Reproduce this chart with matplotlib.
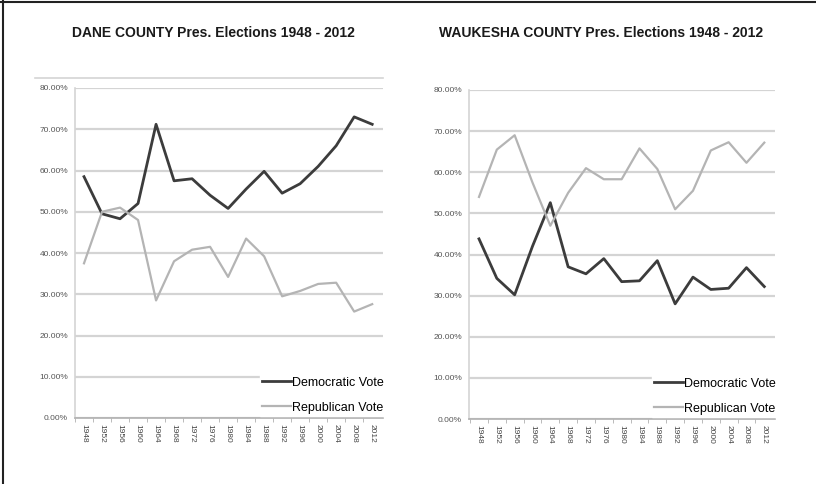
import matplotlib.pyplot as plt
from matplotlib.lines import Line2D
from matplotlib.ticker import FuncFormatter

years = [1948, 1952, 1956, 1960, 1964, 1968, 1972, 1976, 1980,
         1984, 1988, 1992, 1996, 2000, 2004, 2008, 2012]

dane_dem = [58.5, 49.5, 48.3, 52.0, 71.2, 57.5, 58.0, 54.0, 50.8,
            55.5, 59.8, 54.5, 56.8, 61.0, 66.0, 73.0, 71.2]
dane_rep = [37.5, 50.0, 51.0, 48.0, 28.5, 38.0, 40.8, 41.5, 34.2,
            43.5, 39.2, 29.5, 30.8, 32.5, 32.8, 25.8, 27.6]

wauk_dem = [43.8, 34.2, 30.2, 42.0, 52.6, 37.0, 35.3, 39.0, 33.4,
            33.6, 38.5, 28.0, 34.5, 31.5, 31.8, 36.8, 32.2]
wauk_rep = [54.0, 65.5, 69.0, 57.5, 47.0, 55.0, 61.0, 58.3, 58.3,
            65.8, 60.8, 51.0, 55.5, 65.3, 67.3, 62.3, 67.2]

titles = ["DANE COUNTY Pres. Elections 1948 - 2012",
          "WAUKESHA COUNTY Pres. Elections 1948 - 2012"]
series_names = ["Democratic Vote", "Republican Vote"]

DEM_COLOR = "#3c3c3c"
REP_COLOR = "#b4b4b4"
GRID_COLOR = "#d4d4d4"

plt.rcParams['font.family'] = ['Liberation Sans', 'DejaVu Sans']

fig = plt.figure(figsize=(8.16, 4.84), dpi=100)

# axes boxes in figure fractions (left, bottom, width, height)
boxes = [(75 / 816, 1 - 418 / 484, 308 / 816, 330 / 484),
         (469 / 816, 1 - 419 / 484, 306 / 816, 329 / 484)]
title_x = [213 / 816, 601 / 816]
xlims = [(-0.5, 16.6), (-0.56, 16.6)]

data = [(dane_dem, dane_rep), (wauk_dem, wauk_rep)]
idx = list(range(len(years)))

for k in range(2):
    ax = fig.add_axes(boxes[k])
    dem, rep = data[k]
    ax.plot(idx, [v / 100 for v in dem], color=DEM_COLOR, lw=2.0,
            label=series_names[0], zorder=3)
    ax.plot(idx, [v / 100 for v in rep], color=REP_COLOR, lw=1.6,
            label=series_names[1], zorder=3)

    ax.set_ylim(0, 0.8)
    ax.set_xlim(*xlims[k])
    ax.set_yticks([i / 10 for i in range(9)])
    ax.yaxis.set_major_formatter(FuncFormatter(lambda v, p: "%.2f%%" % (v * 100)))
    ax.set_xticks(idx)
    ax.set_xticklabels([str(y) for y in years], rotation=-90)
    ax.set_xticks([i + 0.5 for i in idx[:-1]] + [-0.5], minor=True)

    ax.grid(axis='y', color=GRID_COLOR, lw=1.6, zorder=0)
    for s in ['top', 'right']:
        ax.spines[s].set_visible(False)
    ax.spines['left'].set_color(GRID_COLOR)
    ax.spines['left'].set_linewidth(1.2)
    ax.spines['bottom'].set_color("#b0b0b0")
    ax.spines['bottom'].set_linewidth(1.2)
    ax.tick_params(axis='y', length=0, labelsize=6, labelcolor="#555555", pad=5)
    ax.tick_params(axis='x', which='major', length=0, labelsize=6,
                   labelcolor="#444444", pad=4)
    ax.tick_params(axis='x', which='minor', length=3, color="#b0b0b0")

    leg = ax.legend(loc='lower right', bbox_to_anchor=(1.012, 0.005),
                    prop={'size': 9}, frameon=True, fancybox=False,
                    framealpha=1, edgecolor='white', handlelength=2.3,
                    handletextpad=0.1, labelspacing=1.05, borderpad=0.2,
                    borderaxespad=0)
    leg.set_zorder(5)

    fig.text(title_x[k], 1 - 33 / 484, titles[k], ha='center', va='center',
             fontsize=10, fontweight='bold', color="#1a1a1a")

# faint line above the left plot and the outer frame of the picture
fig.add_artist(Line2D([35 / 816, 383 / 816], [1 - 78 / 484] * 2,
                      color=GRID_COLOR, lw=1.2))
fig.add_artist(Line2D([0, 1], [1 - 2 / 484] * 2, color="#222222", lw=1.5))
fig.add_artist(Line2D([3 / 816] * 2, [0, 1], color="#222222", lw=1.5))

fig.savefig("out.png", dpi=100)
